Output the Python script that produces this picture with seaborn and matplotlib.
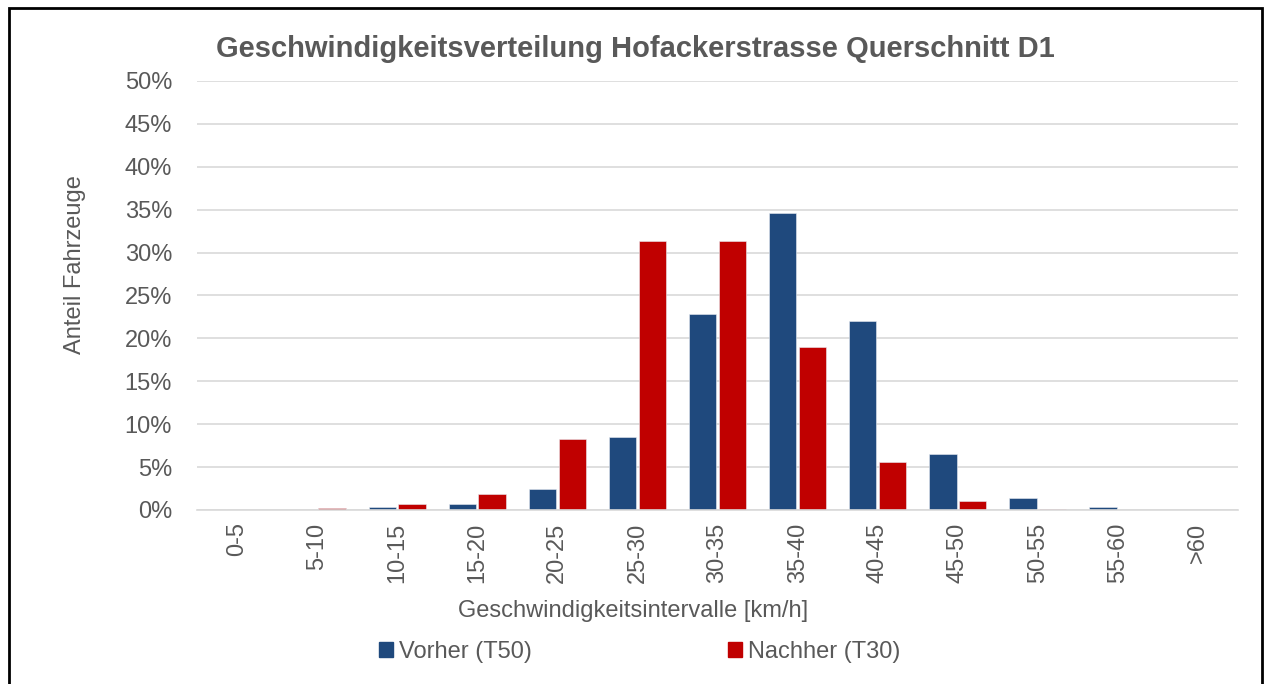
import matplotlib
matplotlib.use("Agg")
import matplotlib.pyplot as plt
import matplotlib.patches as mpatches
import pandas as pd
import seaborn as sns

# ===================== DATA =====================
intervals = ["0-5", "5-10", "10-15", "15-20", "20-25", "25-30", "30-35",
             "35-40", "40-45", "45-50", "50-55", "55-60", ">60"]
vorher = [0.0, 0.0, 0.3, 0.7, 2.5, 8.5, 22.8, 34.6, 22.0, 6.5, 1.4, 0.3, 0.05]
nachher = [0.0, 0.2, 0.7, 1.9, 8.3, 31.4, 31.3, 19.0, 5.6, 1.1, 0.1, 0.0, 0.0]
series = ["Vorher (T50)", "Nachher (T30)"]
colors = ["#1F497D", "#C00000"]

df = pd.DataFrame({
    "intervall": intervals * 2,
    "anteil": [v / 100 for v in vorher + nachher],
    "serie": [series[0]] * len(intervals) + [series[1]] * len(intervals),
})

# ===================== STYLE =====================
sns.set_style("white")
plt.rcParams["font.family"] = ["Liberation Sans", "DejaVu Sans"]
text_color = "#595959"

fig = plt.figure(figsize=(12.66, 6.84), dpi=100)
ax = fig.add_axes([0.1556, 0.2544, 0.8223, 0.6272])

sns.barplot(
    data=df, x="intervall", y="anteil", hue="serie",
    hue_order=series, palette=dict(zip(series, colors)),
    order=intervals, width=0.74, gap=0.08, saturation=1,
    edgecolor="#e8ecf2", linewidth=0.4, legend=False, ax=ax,
)

ax.set_ylim(0, 0.5)
ax.set_yticks([i * 0.05 for i in range(11)])
ax.set_yticklabels([f"{i * 5}%" for i in range(11)])
ax.yaxis.grid(True, color="#d9d9d9", linewidth=1.2)
ax.set_axisbelow(True)
for side in ["top", "right", "left"]:
    ax.spines[side].set_visible(False)
ax.spines["bottom"].set_color("#d9d9d9")
ax.spines["bottom"].set_linewidth(1.2)
ax.tick_params(axis="both", length=0, colors=text_color, labelsize=17)
ax.tick_params(axis="x", pad=9)
plt.setp(ax.get_xticklabels(), rotation=90)
ax.tick_params(axis="y", pad=18)

ax.set_xlabel("")
ax.set_ylabel("")
fig.text(0.059, 0.6126, "Anteil Fahrzeuge", rotation=90, ha="center",
         va="center", fontsize=17, color=text_color)
fig.text(0.5, 0.106, "Geschwindigkeitsintervalle [km/h]", ha="center",
         va="center", fontsize=17, color=text_color)
fig.text(0.502, 0.929, "Geschwindigkeitsverteilung Hofackerstrasse Querschnitt D1",
         ha="center", va="center", fontsize=21, fontweight="bold",
         color=text_color)

handles = [mpatches.Patch(color=c, label=s) for s, c in zip(series, colors)]
fig.legend(handles=handles, loc="center", bbox_to_anchor=(0.505, 0.047),
           ncol=2, frameon=False, fontsize=17, labelcolor=text_color,
           handlelength=0.6, handleheight=0.6, handletextpad=0.25,
           columnspacing=8.3)

# outer frame
fig.patches.append(mpatches.Rectangle(
    (9 / 1266, -0.05), 1253 / 1266, 1 - 8 / 684 + 0.05,
    transform=fig.transFigure, fill=False, edgecolor="black", linewidth=2))

fig.savefig("out.png", dpi=100)
